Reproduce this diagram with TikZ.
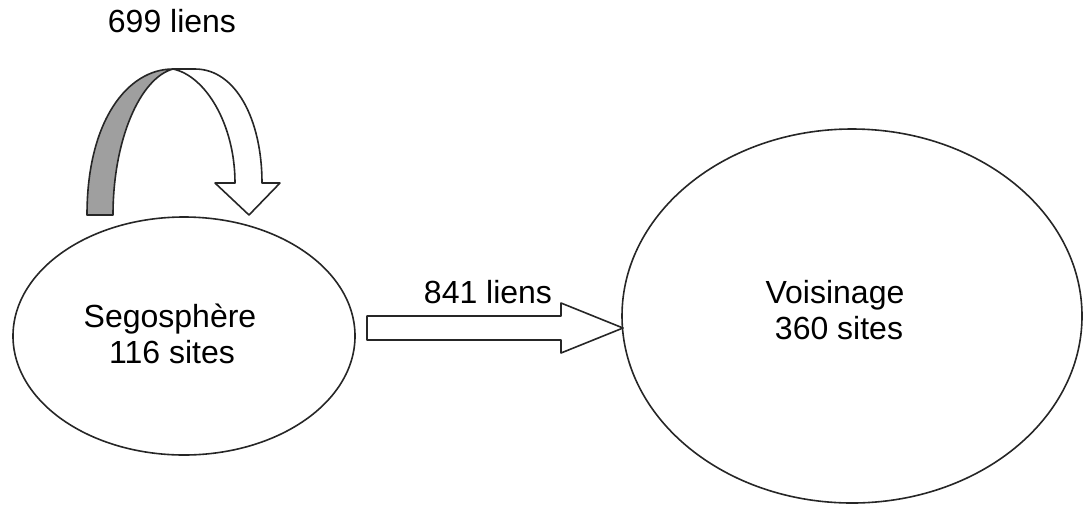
\documentclass[tikz,border=0pt]{standalone}
\usepackage{fontspec}
\setmainfont{Liberation Sans}
\usetikzlibrary{shapes.geometric}

\begin{document}
\begin{tikzpicture}
[x=1pt,y=-1pt,%
  sitedecorate/.style={shape=ellipse,draw=black!85,line width=1.6pt,inner sep=0pt},%
  ribbondecorate/.style={draw=black!85,line width=1.6pt,line join=round},%
  labeldecorate/.style={font=\fontsize{32}{36}\selectfont,anchor=base,inner sep=0pt}]
\useasboundingbox (0,0) rectangle (1083,507);
%% sets of sites
\node (sego) at (184,336) [sitedecorate,minimum width=342pt,minimum height=238pt] {};
\node (voisin) at (852,316) [sitedecorate,minimum width=460pt,minimum height=374pt] {};
%% texts of the sets
\node (segoname) at (170,327) [labeldecorate] {Segosph\`ere};
\node (segocount) at (172,363) [labeldecorate] {116 sites};
\node (voisinname) at (835,303) [labeldecorate] {Voisinage};
\node (voisincount) at (839,339) [labeldecorate] {360 sites};
%% link counts
\node (boucle) at (172,32) [labeldecorate] {699 liens};
\node (sortie) at (488,303) [labeldecorate] {841 liens};
%% straight arrow
\draw[ribbondecorate,fill=white] (367,316) -- (561,316) -- (561,303) -- (623,328)
  -- (561,353) -- (561,340) -- (367,340) -- cycle;
%% loop arrow, grey back side
\draw[ribbondecorate,fill=gray!75] (87,215) .. controls (87,120) and (128,69) .. (173,69)
  .. controls (140,78) and (113,140) .. (113,215) -- cycle;
%% loop arrow, white front side
\draw[ribbondecorate,fill=white] (173,69) -- (195,69) .. controls (236,69) and (262,120) .. (262,183)
  -- (280,183) -- (249,215) -- (215,183) -- (235,183)
  .. controls (235,125) and (206,76) .. (173,69) -- cycle;
\end{tikzpicture}
\end{document}
